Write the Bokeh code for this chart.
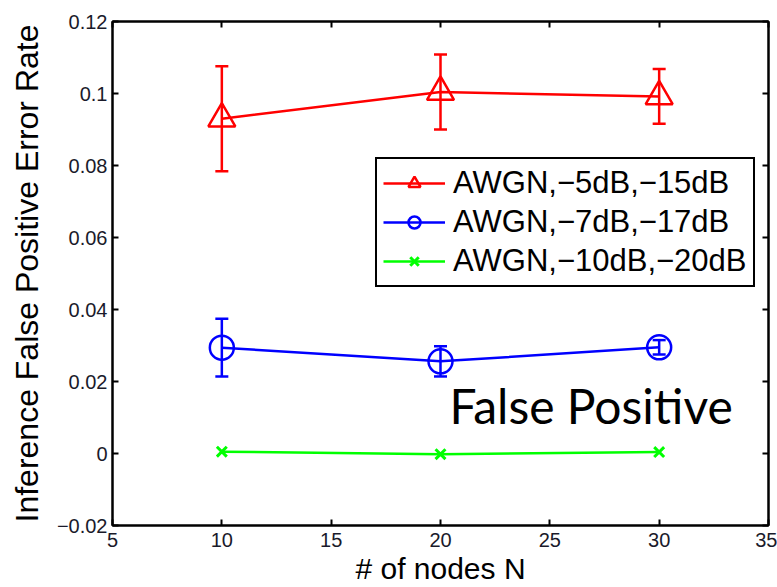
from bokeh.plotting import figure
from bokeh.models import (ColumnDataSource, Whisker, TeeHead, FixedTicker, LinearAxis,
                          Range1d, Legend, LegendItem, Label)
from bokeh.embed import file_html
from bokeh.resources import INLINE

# ---- data ----
x_nodes = [10, 20, 30]
red_vals = [0.0930, 0.1004, 0.0992]
red_err = [0.0146, 0.0104, 0.0076]
blue_vals = [0.0294, 0.0256, 0.0295]
blue_err = [0.0080, 0.0042, 0.0020]
green_vals = [0.0005, -0.0002, 0.0004]

series_names = ["AWGN,\u22125dB,\u221215dB", "AWGN,\u22127dB,\u221217dB", "AWGN,\u221210dB,\u221220dB"]

x_ticks = [5, 10, 15, 20, 25, 30, 35]
x_tick_labels = ["5", "10", "15", "20", "25", "30", "35"]
y_ticks = [-0.02, 0.0, 0.02, 0.04, 0.06, 0.08, 0.1, 0.12]
y_tick_labels = ["\u22120.02", "0", "0.02", "0.04", "0.06", "0.08", "0.1", "0.12"]

x_label = "# of nodes N"
y_label = "Inference False Positive Error Rate"
annotation_text = "False Positive"

FONT = "Liberation Sans"

p = figure(width=777, height=587, output_backend="svg", toolbar_location=None,
           x_range=Range1d(5, 35), y_range=Range1d(-0.02, 0.12),
           min_border_left=112, min_border_right=9, min_border_top=21, min_border_bottom=62)
p.grid.visible = False
p.outline_line_color = "black"
p.outline_line_width = 2
p.background_fill_color = "white"
p.border_fill_color = "white"

def style_axis(ax, ticks, labels, show_labels=True):
    ax.ticker = FixedTicker(ticks=ticks)
    ax.major_label_overrides = {t: l for t, l in zip(ticks, labels)}
    ax.minor_tick_line_color = None
    ax.major_tick_in = 6
    ax.major_tick_out = 0
    ax.major_tick_line_color = "black"
    ax.major_tick_line_width = 2
    ax.axis_line_color = "black"
    ax.axis_line_width = 2
    ax.major_label_text_font = FONT
    ax.major_label_text_color = "#1a1a2a"
    if show_labels:
        ax.major_label_text_font_size = "20px"
    else:
        ax.major_label_text_font_size = "0px"
        ax.major_label_standoff = 0

style_axis(p.xaxis[0], x_ticks, x_tick_labels)
style_axis(p.yaxis[0], y_ticks, y_tick_labels)
p.xaxis[0].major_label_standoff = 7
p.yaxis[0].major_label_standoff = 5

p.xaxis[0].axis_label = x_label
p.yaxis[0].axis_label = y_label
for ax in (p.xaxis[0], p.yaxis[0]):
    ax.axis_label_text_font = FONT
    ax.axis_label_text_font_style = "normal"
    ax.axis_label_text_color = "black"
p.xaxis[0].axis_label_text_font_size = "30px"
p.yaxis[0].axis_label_text_font_size = "32px"
p.xaxis[0].axis_label_standoff = 2
p.yaxis[0].axis_label_standoff = 9

top_ax = LinearAxis()
right_ax = LinearAxis()
style_axis(top_ax, x_ticks, ["" for _ in x_ticks], show_labels=False)
style_axis(right_ax, y_ticks, ["" for _ in y_ticks], show_labels=False)
p.add_layout(top_ax, "above")
p.add_layout(right_ax, "right")

# ---- series ----
def add_err(vals, errs, color):
    src = ColumnDataSource(dict(x=x_nodes,
                                lo=[v - e for v, e in zip(vals, errs)],
                                hi=[v + e for v, e in zip(vals, errs)]))
    w = Whisker(source=src, base="x", lower="lo", upper="hi", line_color=color, line_width=2.5,
                upper_head=TeeHead(size=13, line_color=color, line_width=2.5),
                lower_head=TeeHead(size=13, line_color=color, line_width=2.5))
    p.add_layout(w)

add_err(red_vals, red_err, "#ff0000")
add_err(blue_vals, blue_err, "#0000ff")

r_line = p.line(x_nodes, red_vals, line_color="#ff0000", line_width=2.5)
r_mk = p.scatter(x_nodes, red_vals, marker="triangle", size=27, fill_alpha=0,
                 line_color="#ff0000", line_width=2.5)
b_line = p.line(x_nodes, blue_vals, line_color="#0000ff", line_width=2.5)
b_mk = p.scatter(x_nodes, blue_vals, marker="circle", size=24, fill_alpha=0,
                 line_color="#0000ff", line_width=2.5)
g_line = p.line(x_nodes, green_vals, line_color="#00ff00", line_width=2.5)
g_mk = p.scatter(x_nodes, green_vals, marker="x", size=14,
                 line_color="#00ff00", line_width=3)

legend = Legend(items=[
    LegendItem(label=series_names[0], renderers=[r_line, r_mk]),
    LegendItem(label=series_names[1], renderers=[b_line, b_mk]),
    LegendItem(label=series_names[2], renderers=[g_line, g_mk]),
], location=(263, 238))
legend.label_text_font = FONT
legend.label_text_font_size = "31px"
legend.label_text_color = "black"
legend.glyph_width = 62
legend.glyph_height = 30
legend.label_height = 30
legend.spacing = 3
legend.padding = 6
legend.margin = 0
legend.label_standoff = 8
legend.border_line_color = "black"
legend.border_line_alpha = 1.0
legend.border_line_width = 2
legend.background_fill_color = "white"
legend.background_fill_alpha = 1
p.add_layout(legend)

lbl = Label(x=20.41, y=0.0134, text=annotation_text, text_font="Lato",
            text_font_size="48px", text_color="black", text_baseline="alphabetic")
p.add_layout(lbl)

open("out.html", "w").write(file_html(p, INLINE))
